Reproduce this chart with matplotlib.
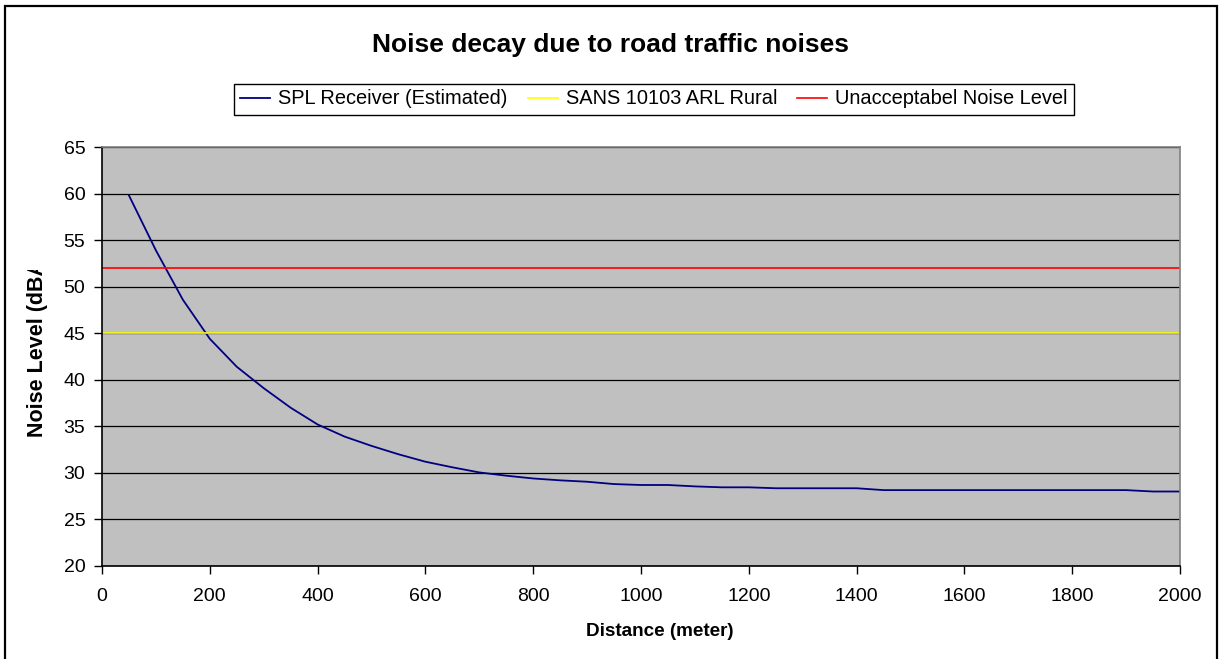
import matplotlib.pyplot as plt
from matplotlib.patches import Rectangle
from matplotlib.transforms import Bbox

plt.rcParams['font.family'] = ['Liberation Sans', 'DejaVu Sans']

# distance (m) and estimated SPL at receiver (dBA)
distance = [50, 100, 150, 200, 250, 300, 350, 400, 450, 500,
            550, 600, 650, 700, 750, 800, 850, 900, 950, 1000,
            1050, 1100, 1150, 1200, 1250, 1300, 1350, 1400, 1450, 1500,
            1550, 1600, 1650, 1700, 1750, 1800, 1850, 1900, 1950, 2000]
spl = [59.8, 53.9, 48.6, 44.4, 41.4, 39.1, 37.0, 35.2, 33.9, 32.9,
       32.0, 31.2, 30.6, 30.05, 29.7, 29.4, 29.2, 29.05, 28.8, 28.7,
       28.7, 28.55, 28.45, 28.45, 28.35, 28.35, 28.35, 28.35, 28.15, 28.15,
       28.15, 28.15, 28.15, 28.15, 28.15, 28.15, 28.15, 28.15, 28.0, 28.0]
# the limit lines run over the full axis
limit_distance = [0] + distance
arl_rural = [45] * len(limit_distance)
unacceptable = [52] * len(limit_distance)

labels = ["SPL Receiver (Estimated)", "SANS 10103 ARL Rural", "Unacceptabel Noise Level"]

fig = plt.figure(figsize=(12.19, 6.59), dpi=100)
ax = fig.add_axes([102/1219, 1-566/659, (1180-102)/1219, (566-147)/659])
ax.set_facecolor('#C0C0C0')

l1, = ax.plot(distance, spl, color='#000080', lw=1.3)
l2, = ax.plot(limit_distance, arl_rural, color='#FFFF00', lw=1.2)
l3, = ax.plot(limit_distance, unacceptable, color='#FF0000', lw=1.2)

ax.set_xlim(0, 2000)
ax.set_ylim(20, 65)
ax.set_xticks(range(0, 2001, 200))
ax.set_yticks(range(20, 66, 5))
ax.yaxis.grid(True, color='black', lw=0.9)
ax.set_axisbelow(True)
ax.tick_params(labelsize=14, length=6, width=1, color='black', pad=6)
ax.tick_params(axis='x', direction='out', pad=10)

for s in ['left', 'bottom']:
    ax.spines[s].set_color('black')
    ax.spines[s].set_linewidth(1.2)
for s in ['top', 'right']:
    ax.spines[s].set_color('#808080')
    ax.spines[s].set_linewidth(1.2)

fig.text(610/1219, 1-45/659, "Noise decay due to road traffic noises",
         ha='center', va='center', fontsize=19, fontweight='bold')

fig.legend([l1, l2, l3], labels, loc='center', bbox_to_anchor=(654/1219, 1-99/659),
           ncol=3, fontsize=14.4, frameon=True, fancybox=False, edgecolor='black',
           framealpha=1, handlelength=1.5, handletextpad=0.4, columnspacing=1.0,
           borderpad=0.3)

fig.text(660/1219, 1-631/659, "Distance (meter)", ha='center', va='center',
         fontsize=13.6, fontweight='bold')

# y label is cut off in the original
yl = fig.text(38/1219, 1-437/659, "Noise Level (dBA)", rotation=90,
              ha='center', va='bottom', fontsize=15.5, fontweight='bold')
yl.set_clip_box(Bbox([[0, 0], [1219, 659-270]]))
yl.set_clip_on(True)

# outer chart border
fig.patches.append(Rectangle((5/1219, -0.02), (1217-5)/1219, 1-6/659+0.02,
                             transform=fig.transFigure, fill=False,
                             edgecolor='black', lw=1.6))

plt.savefig("out.png", dpi=100)
